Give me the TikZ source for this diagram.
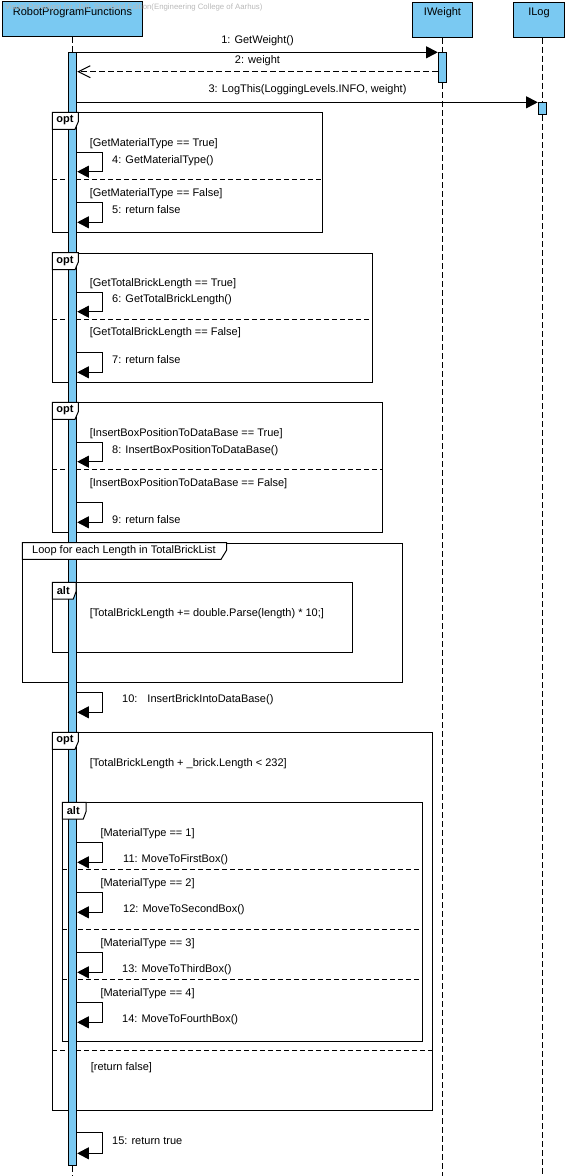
\documentclass[tikz,border=0pt]{standalone}
\usepackage{fontspec}
\setmainfont{Liberation Sans}
\usetikzlibrary{arrows.meta}
\definecolor{lifeblue}{RGB}{122,201,242}

\begin{document}
\begin{tikzpicture}[x=1pt, y=-1pt, line width=1pt, font=\fontsize{11}{13}\selectfont,
    head/.style={draw, fill=lifeblue, anchor=north, inner sep=0pt, text height=13pt, text depth=21.4pt},
    actbar/.style={draw, fill=lifeblue, anchor=north, inner sep=0pt, minimum width=8.4pt},
    lifeline/.style={dash pattern=on 6pt off 3pt},
    frame/.style={draw, anchor=north west, inner sep=0pt},
    tab/.style={draw, fill=white},
    tabtext/.style={font=\fontsize{11}{13}\selectfont\bfseries, inner sep=0pt},
    sep/.style={dash pattern=on 5pt off 3pt},
    call/.style={-{Triangle[length=11.7pt, width=12pt]}},
    reply/.style={dash pattern=on 6pt off 3pt, -{Straight Barb[length=12pt, width=12pt]}},
    txt/.style={anchor=west, inner sep=0pt}]
    \useasboundingbox (0,0) rectangle (576,1176);
    \coordinate (bottom) at (0,1176);

    \node[head, minimum width=140pt, text height=14pt, text depth=21.7pt] (rpf) at (72.5,0.5) {RobotProgramFunctions};
    \node[head, minimum width=59.4pt] (iw) at (442.5,2.3) {IWeight};
    \node[head, minimum width=51pt] (ilog) at (539,2.3) {ILog};

    % combined fragments
    \node[frame, minimum width=270pt, minimum height=120pt] (opt1) at (52.3,112.3) {};
    \node[frame, minimum width=320pt, minimum height=129.6pt] (opt2) at (52.3,252.7) {};
    \node[frame, minimum width=330pt, minimum height=130pt] (opt3) at (52.3,402.3) {};
    \node[frame, minimum width=380pt, minimum height=139.6pt] (loop) at (22.3,542.7) {};
    \node[frame, minimum width=300pt, minimum height=70pt] (alt1) at (52.3,582.3) {};
    \node[frame, minimum width=380pt, minimum height=377.3pt] (opt4) at (52.3,732.3) {};
    \node[frame, minimum width=360pt, minimum height=238.4pt] (alt2) at (62.3,802.3) {};

    \draw[sep] (opt1.west |- 0,179.3) -- (opt1.east |- 0,179.3);
    \draw[sep] (opt2.west |- 0,319.3) -- (opt2.east |- 0,319.3);
    \draw[sep] (opt3.west |- 0,469.3) -- (opt3.east |- 0,469.3);
    \draw[sep] (opt4.west |- 0,1050) -- (opt4.east |- 0,1050);
    \draw[sep] (alt2.west |- 0,869.3) -- (alt2.east |- 0,869.3) (alt2.west |- 0,929.3) -- (alt2.east |- 0,929.3) (alt2.west |- 0,979.3) -- (alt2.east |- 0,979.3);

    % activations
    \node[actbar, minimum height=1112.7pt] (rpfbar) at (72.5,52.3) {};
    \node[actbar, minimum height=30pt] (iwbar) at (442.5,52.3) {};
    \node[actbar, minimum height=12pt] (ilogbar) at (542.5,102.3) {};

    \draw[lifeline] (rpf) -- (rpfbar) (rpfbar) -- (rpfbar |- bottom);
    \draw[lifeline] (iw) -- (iwbar) (iwbar) -- (iwbar |- bottom);
    \draw[lifeline] (ilog.south -| ilogbar) -- (ilogbar) (ilogbar) -- (ilogbar |- bottom);

    % fragment tabs
    \draw[tab] (opt1.north west) -- ++(26,0) -- ++(0,9.4) -- ++(-3.3,7.6) -- ++(-22.7,0) -- cycle;
    \draw[tab] (opt2.north west) -- ++(26,0) -- ++(0,9.4) -- ++(-3.3,7.6) -- ++(-22.7,0) -- cycle;
    \draw[tab] (opt3.north west) -- ++(26,0) -- ++(0,9.4) -- ++(-3.3,7.6) -- ++(-22.7,0) -- cycle;
    \draw[tab] (opt4.north west) -- ++(26,0) -- ++(0,9.4) -- ++(-3.3,7.6) -- ++(-22.7,0) -- cycle;
    \draw[tab] (loop.north west) -- ++(204.4,0) -- ++(0,7.3) -- ++(-5.7,9.4) -- ++(-198.7,0) -- cycle;
    \draw[tab] (alt1.north west) -- ++(23.7,0) -- ++(0,9.4) -- ++(-2.7,7.3) -- ++(-21,0) -- cycle;
    \draw[tab] (alt2.north west) -- ++(23.7,0) -- ++(0,9.4) -- ++(-2.7,7.3) -- ++(-21,0) -- cycle;
    \node[tabtext] (opt1tab) at ([xshift=12.7pt, yshift=-8.2pt]opt1.north west) {opt};
    \node[tabtext] (opt2tab) at ([xshift=12.7pt, yshift=-8.2pt]opt2.north west) {opt};
    \node[tabtext] (opt3tab) at ([xshift=12.7pt, yshift=-8.2pt]opt3.north west) {opt};
    \node[tabtext] (opt4tab) at ([xshift=12.7pt, yshift=-8.2pt]opt4.north west) {opt};
    \node[tabtext] (alt1tab) at ([xshift=11pt, yshift=-8pt]alt1.north west) {alt};
    \node[tabtext] (alt2tab) at ([xshift=11pt, yshift=-8pt]alt2.north west) {alt};
    \node[txt] (looptab) at (31.7,550.3) {Loop for each Length in TotalBrickList};

    % messages
    \draw[call] (rpfbar.north east) -- node[midway, yshift=11.3pt] (m1) {1: GetWeight()} (iwbar.north west);
    \draw[reply] (iwbar.west |- 0,71.7) -- node[midway, yshift=10.7pt] (m2) {2: weight} (rpfbar.east |- 0,71.7);
    \draw[call] (rpfbar.east |- ilogbar.north) -- node[midway, yshift=12.3pt] (m3) {3: LogThis(LoggingLevels.INFO, weight)} (ilogbar.north west);

    \draw[call] (rpfbar.east |- 0,152.3) -- (102.3,152.3) -- (102.3,171.7) -- (rpfbar.east |- 0,171.7);
    \draw[call] (rpfbar.east |- 0,202.3) -- (102.3,202.3) -- (102.3,222.3) -- (rpfbar.east |- 0,222.3);
    \draw[call] (rpfbar.east |- 0,292.3) -- (102.3,292.3) -- (102.3,311.7) -- (rpfbar.east |- 0,311.7);
    \draw[call] (rpfbar.east |- 0,352.3) -- (102.3,352.3) -- (102.3,372.3) -- (rpfbar.east |- 0,372.3);
    \draw[call] (rpfbar.east |- 0,442.3) -- (102.3,442.3) -- (102.3,461.7) -- (rpfbar.east |- 0,461.7);
    \draw[call] (rpfbar.east |- 0,502.3) -- (102.3,502.3) -- (102.3,522.3) -- (rpfbar.east |- 0,522.3);
    \draw[call] (rpfbar.east |- 0,692.3) -- (102.3,692.3) -- (102.3,712.3) -- (rpfbar.east |- 0,712.3);
    \draw[call] (rpfbar.east |- 0,842.3) -- (102.3,842.3) -- (102.3,862.3) -- (rpfbar.east |- 0,862.3);
    \draw[call] (rpfbar.east |- 0,892.3) -- (102.3,892.3) -- (102.3,912.3) -- (rpfbar.east |- 0,912.3);
    \draw[call] (rpfbar.east |- 0,952.3) -- (102.3,952.3) -- (102.3,972.3) -- (rpfbar.east |- 0,972.3);
    \draw[call] (rpfbar.east |- 0,1002.3) -- (102.3,1002.3) -- (102.3,1022.3) -- (rpfbar.east |- 0,1022.3);
    \draw[call] (rpfbar.east |- 0,1132.3) -- (102.3,1132.3) -- (102.3,1153.3) -- (rpfbar.east |- 0,1153.3);

    % guards and message labels
    \node[txt] (g1) at (89.3,143.3) {[GetMaterialType == True]};
    \node[txt] (m4) at (111.7,161) {4: GetMaterialType()};
    \node[txt] (g2) at (89.3,193.3) {[GetMaterialType == False]};
    \node[txt] (m5) at (111.7,210) {5: return false};
    \node[txt] (g3) at (89.3,283.3) {[GetTotalBrickLength == True]};
    \node[txt] (m6) at (111.7,300) {6: GetTotalBrickLength()};
    \node[txt] (g4) at (89.3,332.7) {[GetTotalBrickLength == False]};
    \node[txt] (m7) at (111.7,360) {7: return false};
    \node[txt] (g5) at (89.3,433.3) {[InsertBoxPositionToDataBase == True]};
    \node[txt] (m8) at (111.7,450.3) {8: InsertBoxPositionToDataBase()};
    \node[txt] (g6) at (89.3,483.3) {[InsertBoxPositionToDataBase == False]};
    \node[txt] (m9) at (111.7,520) {9: return false};
    \node[txt] (g7) at (89.3,613.3) {[TotalBrickLength += double.Parse(length) * 10;]};
    \node[txt] (m10) at (121.7,700) {10:\hspace{10pt}InsertBrickIntoDataBase()};
    \node[txt] (g8) at (89.3,763.3) {[TotalBrickLength + \_brick.Length < 232]};
    \node[txt] (g9) at (100,833.3) {[MaterialType == 1]};
    \node[txt] (m11) at (122.7,860) {11: MoveToFirstBox()};
    \node[txt] (g10) at (100,883.3) {[MaterialType == 2]};
    \node[txt] (m12) at (122.7,910) {12: MoveToSecondBox()};
    \node[txt] (g11) at (100,943.3) {[MaterialType == 3]};
    \node[txt] (m13) at (121.7,970) {13: MoveToThirdBox()};
    \node[txt] (g12) at (100,993.3) {[MaterialType == 4]};
    \node[txt] (m14) at (121.7,1020) {14: MoveToFourthBox()};
    \node[txt] (g13) at (90.3,1067.6) {[return false]};
    \node[txt] (m15) at (111.7,1140.5) {15: return true};

    \node[anchor=east, inner sep=0pt, text=gray!55, font=\fontsize{7.8}{9}\selectfont] (wm) at (263,7) {Visual Paradigm for UML Standard Edition(Engineering College of Aarhus)};
  \end{tikzpicture}
\end{document}
